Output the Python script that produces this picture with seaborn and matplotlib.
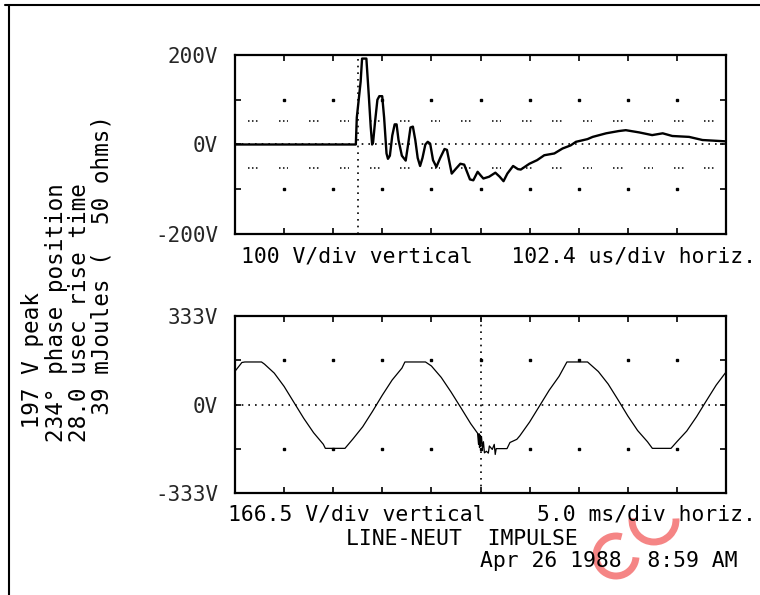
import numpy as np
import pandas as pd
import seaborn as sns
import matplotlib
matplotlib.use('Agg')
import matplotlib.pyplot as plt
from matplotlib.patches import Arc
from matplotlib.lines import Line2D

# impulse capture, 102.4 us/div, 100 V/div
imp_t = [0, 252, 254, 258, 262, 265, 274, 279, 283, 286, 288, 292, 297, 301, 307,
         311, 316, 319, 323, 328, 333, 337, 341, 348, 356, 361, 366, 371, 376, 381,
         386, 391, 397, 402, 407, 413, 420, 428, 437, 442, 452, 460, 470, 478, 490,
         497, 506, 513, 518, 530, 543, 552, 560, 568, 580, 590, 596, 614, 630, 645,
         666, 683, 700, 711, 735, 746, 774, 800, 815, 843, 870, 892, 912, 947, 975, 1024]
imp_v = [0, 0, 60, 100, 140, 192, 192, 110, 40, 0, 5, 50, 100, 108, 108,
         60, -20, -32, -25, 20, 45, 45, 10, -25, -36, 0, 38, 40, 10, -30,
         -48, -30, 0, 6, 2, -35, -50, -30, -10, -12, -65, -55, -43, -45, -78,
         -80, -61, -70, -76, -72, -63, -72, -82, -65, -48, -55, -56, -43, -35, -24,
         -20, -9, -2, 6, 12, 17, 25, 30, 32, 27, 21, 25, 19, 17, 10, 7]

# line cycle capture, 5.0 ms/div, 166.5 V/div
line_t = [0, 0.7, 1, 2.7, 3, 4, 5, 6, 7, 8, 9, 9.2, 11.2, 12, 13, 14, 15, 16, 17, 17.3,
          19.4, 20, 21, 22, 23, 24, 24.7, 24.8, 24.85, 24.9, 24.95, 25.0, 25.1, 25.2,
          25.3, 25.4, 25.6, 25.8, 25.9, 26.2, 26.4, 26.5, 26.6, 27.7, 28.0, 28.7, 29,
          30, 31, 32, 33, 33.8, 35.9, 37, 38, 39, 40, 41, 42, 42.5, 44.4, 45, 46, 47,
          48, 49, 50]
line_v = [125, 158, 160, 160, 152, 118, 68, 8, -52, -106, -150, -165, -165, -130, -84,
          -26, 35, 92, 137, 160, 160, 145, 102, 47, -12, -72, -108, -150, -110, -162,
          -115, -158, -120, -165, -140, -182, -176, -183, -156, -169, -150, -188, -166,
          -166, -143, -131, -118, -66, -6, 54, 106, 160, 160, 124, 77, 18, -43, -98,
          -140, -165, -165, -140, -100, -46, 14, 73, 122]

top_ticks = [-200, -100, 0, 100, 200]
top_labels = ['-200V', '', '0V', '', '200V']
bot_ticks = [-333, -166.5, 0, 166.5, 333]
bot_labels = ['-333V', '', '0V', '', '333V']

side_lines = [' 197 V peak', '234\u00b0 phase position',
              '28.0 usec rise time', '  39 mJoules (  50 ohms)']

sns.set_theme(style='white')
plt.rcParams['font.family'] = ['DejaVu Sans Mono', 'DejaVu Sans']

W, H = 760, 595
fig = plt.figure(figsize=(7.6, 5.95), dpi=100)


def px(x, y):
    return x / W, 1 - y / H


ax1 = fig.add_axes([235 / W, 1 - 234 / H, 491 / W, 179 / H])
ax2 = fig.add_axes([235 / W, 1 - 493 / H, 491 / W, 177 / H])

dot = dict(color='black', lw=1.2, linestyle=(0, (1, 3)))


def scope_axes(ax, xmax, yticks, ylabels, trig):
    ax.set_xlim(0, xmax)
    ax.set_ylim(yticks[0], yticks[-1])
    divs = np.linspace(0, xmax, 11)
    ax.set_xticks(divs)
    ax.set_xticklabels([])
    ax.set_yticks(yticks)
    ax.set_yticklabels(ylabels, fontsize=15)
    ax.tick_params(axis='both', direction='in', length=4, width=1.2, color='black',
                   top=True, right=True, left=True, bottom=True, pad=12)
    for s in ax.spines.values():
        s.set_color('black')
        s.set_linewidth(1.6)
    ax.axhline(0, **dot)
    ax.axvline(trig, **dot)
    inner = divs[1:-1]
    for yv in (yticks[1], yticks[3]):
        ax.plot(inner, [yv] * len(inner), 's', color='black', ms=1.6)
    ax.set_xlabel('')
    ax.set_ylabel('')


df1 = pd.DataFrame({'t': imp_t, 'v': imp_v})
sns.lineplot(data=df1, x='t', y='v', ax=ax1, color='black', lw=1.7, sort=False, estimator=None)
scope_axes(ax1, 1024, top_ticks, top_labels, 256)
# short dotted segments at the +/- threshold rows
for c in np.linspace(38, 989, 16):
    for yv in (52, -52):
        ax1.plot([c - 10, c + 10], [yv, yv], color='black', lw=1.1, linestyle=(0, (1, 1.6)))

df2 = pd.DataFrame({'t': line_t, 'v': line_v})
sns.lineplot(data=df2, x='t', y='v', ax=ax2, color='black', lw=0.9, sort=False, estimator=None)
scope_axes(ax2, 50, bot_ticks, bot_labels, 25)

tk = dict(fontsize=15.4, color='black', va='baseline', ha='left')
fig.text(*px(241, 263), '100 V/div vertical   102.4 us/div horiz.', **tk)
fig.text(*px(228, 520), '166.5 V/div vertical    5.0 ms/div horiz.', **tk)
fig.text(*px(346, 545), 'LINE-NEUT  IMPULSE', **tk)
fig.text(*px(480, 567), 'Apr 26 1988  8:59 AM', **tk)

for xc, s in zip([33, 56, 79, 102], side_lines):
    fig.text(*px(xc, 442), s, fontsize=16.3, color='black', rotation=90,
             rotation_mode='anchor', ha='left', va='center')

# page frame
fig.add_artist(Line2D([5 / W, 1], [1 - 5 / H, 1 - 5 / H], color='black', lw=1.5,
                      transform=fig.transFigure))
fig.add_artist(Line2D([9 / W, 9 / W], [1 - 5 / H, 0], color='black', lw=1.5,
                      transform=fig.transFigure))

# red watermark
for (cx, cy, r, a1, a2) in [(616, 556, 20, 77, 355), (654, 520, 22, 173, 365)]:
    fig.add_artist(Arc(px(cx, cy), 2 * r / W, 2 * r / H, theta1=a1, theta2=a2,
                       color='#f47878', lw=5, alpha=0.9, transform=fig.transFigure))

fig.savefig('out.png', dpi=100, facecolor='white')
